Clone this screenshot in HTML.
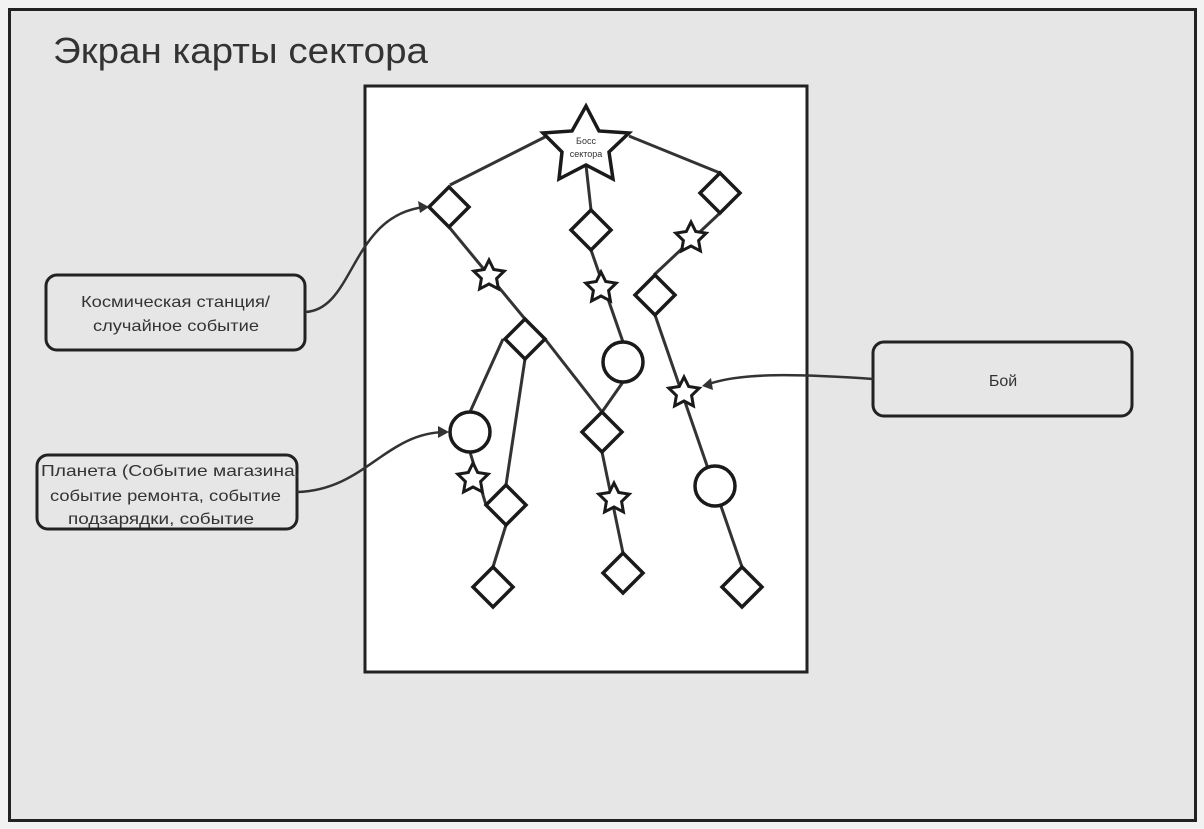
<!DOCTYPE html>
<html><head><meta charset="utf-8"><style>
body{margin:0;background:#f2f2f2;}
svg{display:block}
text{font-family:"Liberation Sans","DejaVu Sans",sans-serif;fill:#333}
</style></head><body>
<svg width="1204" height="829" viewBox="0 0 1204 829" xmlns="http://www.w3.org/2000/svg">
<rect x="0" y="0" width="1204" height="829" fill="#f2f2f2"/>
<rect x="9.5" y="9.5" width="1186" height="811" fill="#e6e6e6" stroke="#222" stroke-width="3"/>
<text x="53" y="63" font-size="36" fill="#222" textLength="375" lengthAdjust="spacingAndGlyphs">Экран карты сектора</text>
<rect x="365" y="86" width="442" height="586" fill="#fff" stroke="#222" stroke-width="3"/>
<g stroke="#333" stroke-width="3" fill="none">
<path d="M545,137 L450,185"/><path d="M629,136 L720,173"/><path d="M586,165 L591,210"/>
<path d="M449,227 L525,319"/><path d="M591,250 L623,342"/><path d="M720,213 L654,275"/>
<path d="M655,315 L742,567"/><path d="M503,339 L470,412"/><path d="M525,359 L506,485"/>
<path d="M545,339 L602,412"/><path d="M623,382 L602,412"/><path d="M470,452 L486,505"/>
<path d="M506,525 L493,567"/><path d="M602,452 L623,553"/>
</g>
<g fill="#fff" stroke="#1a1a1a" stroke-width="3.5">
<polygon points="586,106 599,131 629,133 609,152 613,179 586,165 559,179 562,152 543,133 572,131"/>
<polygon points="449,187 469,207 449,227 429,207"/>
<polygon points="591,210 611,230 591,250 571,230"/>
<polygon points="720,173 740,193 720,213 700,193"/>
<polygon points="655,275 675,295 655,315 635,295"/>
<polygon points="525,319 545,339 525,359 505,339"/>
<polygon points="602,412 622,432 602,452 582,432"/>
<polygon points="506,485 526,505 506,525 486,505"/>
<polygon points="493,567 513,587 493,607 473,587"/>
<polygon points="623,553 643,573 623,593 603,573"/>
<polygon points="742,567 762,587 742,607 722,587"/>
<circle cx="623" cy="362" r="20"/><circle cx="470" cy="432" r="20"/><circle cx="715" cy="486" r="20"/>
<g stroke-width="3">
<polygon transform="translate(489,276)" points="0,-16 4.7,-6.5 15.2,-4.9 7.6,2.5 9.4,12.9 0,8 -9.4,12.9 -7.6,2.5 -15.2,-4.9 -4.7,-6.5"/>
<polygon transform="translate(601,288)" points="0,-16 4.7,-6.5 15.2,-4.9 7.6,2.5 9.4,12.9 0,8 -9.4,12.9 -7.6,2.5 -15.2,-4.9 -4.7,-6.5"/>
<polygon transform="translate(691,238)" points="0,-16 4.7,-6.5 15.2,-4.9 7.6,2.5 9.4,12.9 0,8 -9.4,12.9 -7.6,2.5 -15.2,-4.9 -4.7,-6.5"/>
<polygon transform="translate(684,393)" points="0,-16 4.7,-6.5 15.2,-4.9 7.6,2.5 9.4,12.9 0,8 -9.4,12.9 -7.6,2.5 -15.2,-4.9 -4.7,-6.5"/>
<polygon transform="translate(473,479)" points="0,-16 4.7,-6.5 15.2,-4.9 7.6,2.5 9.4,12.9 0,8 -9.4,12.9 -7.6,2.5 -15.2,-4.9 -4.7,-6.5"/>
<polygon transform="translate(614,499)" points="0,-16 4.7,-6.5 15.2,-4.9 7.6,2.5 9.4,12.9 0,8 -9.4,12.9 -7.6,2.5 -15.2,-4.9 -4.7,-6.5"/>
</g>
</g>
<text x="586" y="144" font-size="9" text-anchor="middle">Босс</text>
<text x="586" y="157" font-size="9" text-anchor="middle">сектора</text>
<g fill="#e6e6e6" stroke="#222" stroke-width="3">
<rect x="46" y="275" width="259" height="75" rx="11"/>
<rect x="37" y="455" width="260" height="74" rx="11"/>
<rect x="873" y="342" width="259" height="74" rx="11"/>
</g>
<g font-size="16">
<text x="81" y="307" textLength="189" lengthAdjust="spacingAndGlyphs">Космическая станция/</text>
<text x="93" y="331" textLength="166" lengthAdjust="spacingAndGlyphs">случайное событие</text>
<text x="41" y="476" textLength="259" lengthAdjust="spacingAndGlyphs">Планета (Событие магазина,</text>
<text x="50" y="501" textLength="231" lengthAdjust="spacingAndGlyphs">событие ремонта, событие</text>
<text x="68" y="524" textLength="186" lengthAdjust="spacingAndGlyphs">подзарядки, событие</text>
<text x="1003" y="386" text-anchor="middle">Бой</text>
</g>
<g stroke="#333" stroke-width="2.5" fill="none">
<path d="M305,312 C355,310 350,215 425,207"/>
<path d="M297,492 C365,490 385,433 445,432"/>
<path d="M873,379 C800,374 740,372 706,385"/>
</g>
<g fill="#333">
<polygon points="429,207 418,201 420,213"/>
<polygon points="449,432 438,426 438,438"/>
<polygon points="702,386 711,378 713,390"/>
</g>
</svg>
</body></html>
